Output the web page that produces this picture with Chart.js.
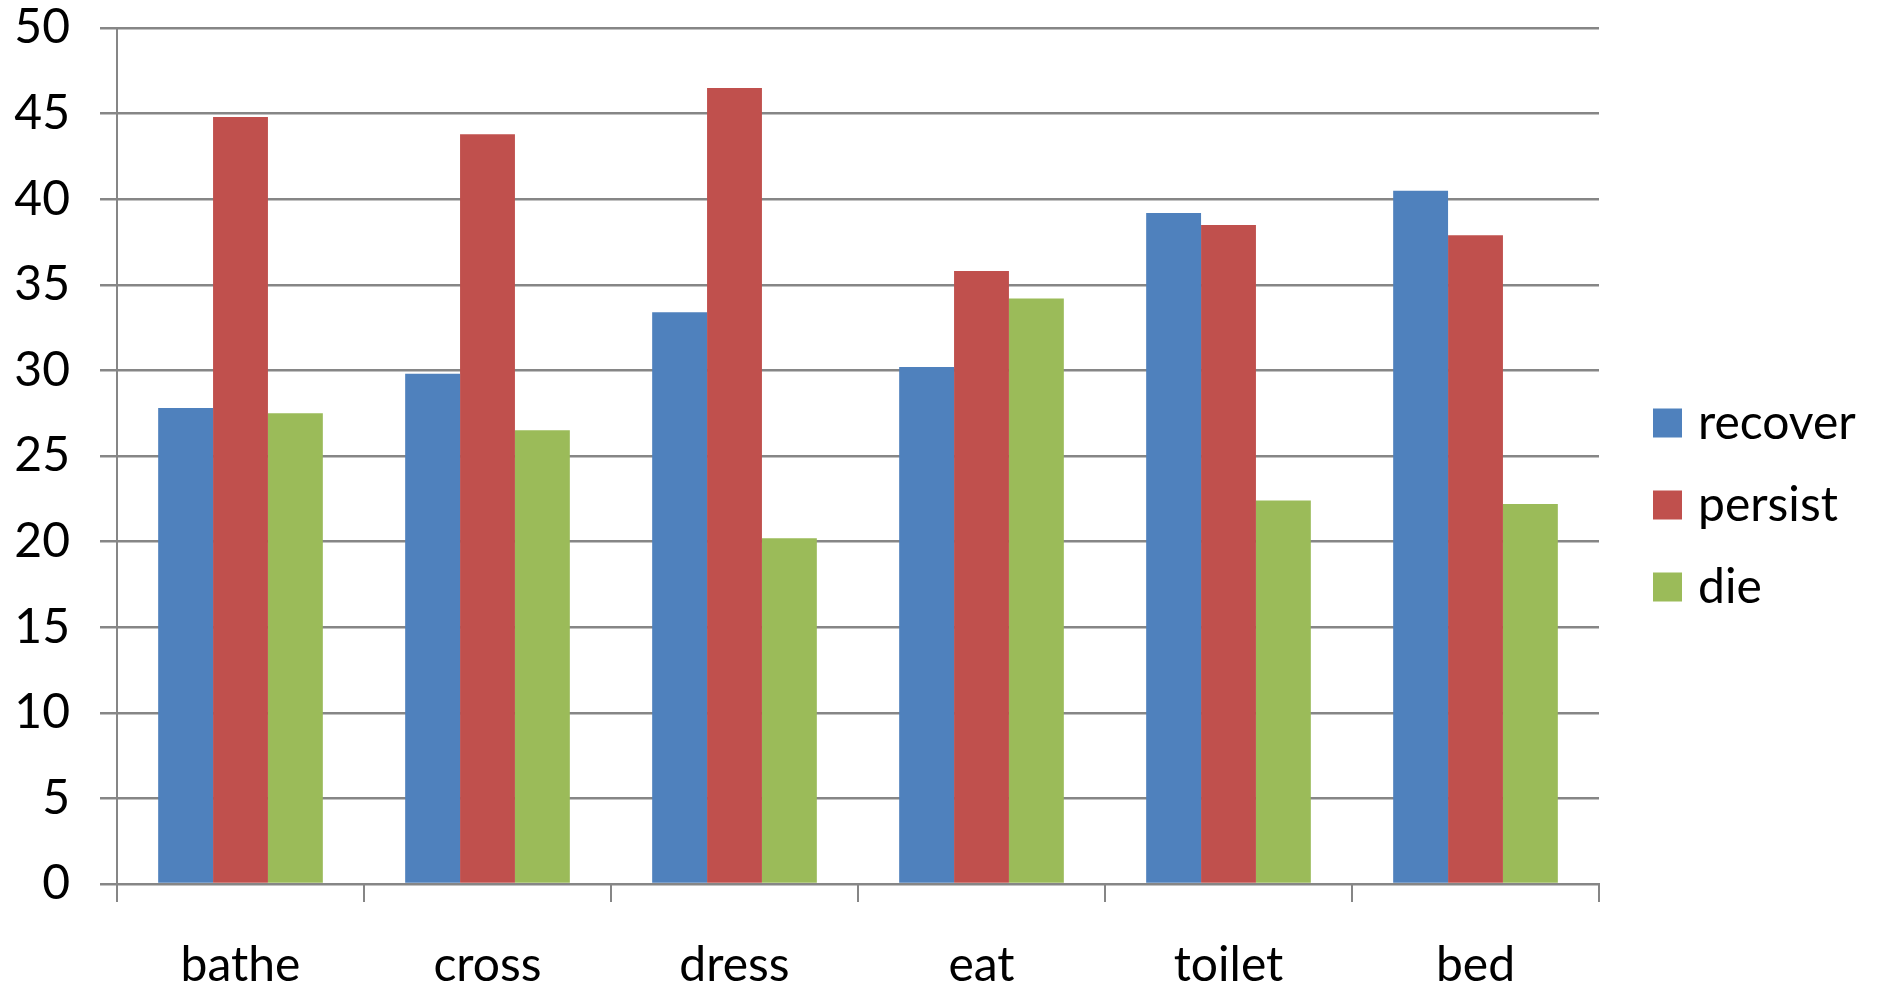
<!DOCTYPE html>
<html>
<head>
<meta charset="utf-8">
<title>recover / persist / die</title>
<script src="https://cdn.jsdelivr.net/npm/chart.js@4"></script>
<style>
  html, body { margin: 0; padding: 0; background: #ffffff; }
  #wrap { width: 1878px; height: 990px; position: relative; }
</style>
</head>
<body>
<div id="wrap"><canvas id="chart" width="1878" height="990"></canvas></div>
<script>
// Categories and series
const categories = ['bathe', 'cross', 'dress', 'eat', 'toilet', 'bed'];
const recover = [27.8, 29.8, 33.4, 30.2, 39.2, 40.5];
const persist = [44.8, 43.8, 46.5, 35.8, 38.5, 37.9];
const die = [27.5, 26.5, 20.2, 34.2, 22.4, 22.2];
const seriesNames = ['recover', 'persist', 'die'];
const yTicks = [0, 5, 10, 15, 20, 25, 30, 35, 40, 45, 50];

const colors = ['#4F81BD', '#C0504D', '#9BBB59'];
const gridColor = '#868686';
const FONT = 'Lato, "Open Sans", sans-serif';

// Legend drawn to the right of the plot area
const sideLegend = {
  id: 'sideLegend',
  afterDraw(chart) {
    const ctx = chart.ctx;
    const area = chart.chartArea;
    const box = 29, step = 82;
    const x0 = area.right + 54;
    const midY = chart.height / 2 + 10;
    const n = chart.data.datasets.length;
    ctx.save();
    ctx.font = '48px ' + FONT;
    ctx.textAlign = 'left';
    ctx.textBaseline = 'alphabetic';
    chart.data.datasets.forEach((ds, i) => {
      const cy = midY + (i - (n - 1) / 2) * step;
      ctx.fillStyle = ds.backgroundColor;
      ctx.fillRect(x0, cy - box / 2, box, box);
      ctx.fillStyle = '#000';
      ctx.fillText(ds.label, x0 + 45, cy + 16);
    });
    ctx.restore();
  }
};

new Chart(document.getElementById('chart'), {
  type: 'bar',
  data: {
    labels: categories,
    datasets: [recover, persist, die].map((vals, i) => ({
      label: seriesNames[i],
      data: vals,
      backgroundColor: colors[i],
      borderWidth: 0,
      categoryPercentage: 3 / 4.5,
      barPercentage: 1.0
    }))
  },
  options: {
    responsive: false,
    animation: false,
    layout: { padding: { top: 28, right: 279, left: 0, bottom: 0 } },
    plugins: {
      legend: { display: false },
      tooltip: { enabled: false }
    },
    scales: {
      x: {
        grid: {
          offset: true,
          drawOnChartArea: false,
          drawTicks: true,
          tickLength: 18,
          color: gridColor,
          lineWidth: 2
        },
        border: { display: true, color: gridColor, width: 2 },
        ticks: {
          font: { family: FONT, size: 48 },
          color: '#000',
          padding: 35,
          maxRotation: 0
        },
        afterFit(scale) {
          scale.height = 106;
          scale.paddingLeft = 0;
          scale.paddingRight = 0;
        }
      },
      y: {
        min: 0,
        max: 50,
        afterBuildTicks(scale) { scale.ticks = yTicks.map(v => ({ value: v })); },
        grid: {
          color: gridColor,
          lineWidth: 2.5,
          tickLength: 17,
          drawTicks: true
        },
        border: { display: true, color: gridColor, width: 2 },
        ticks: {
          font: { family: FONT, size: 48 },
          color: '#000',
          padding: 30
        },
        afterFit(scale) {
          scale.width = 117;
          scale.paddingTop = 0;
          scale.paddingBottom = 0;
        }
      }
    }
  },
  plugins: [sideLegend]
});
</script>
</body>
</html>
